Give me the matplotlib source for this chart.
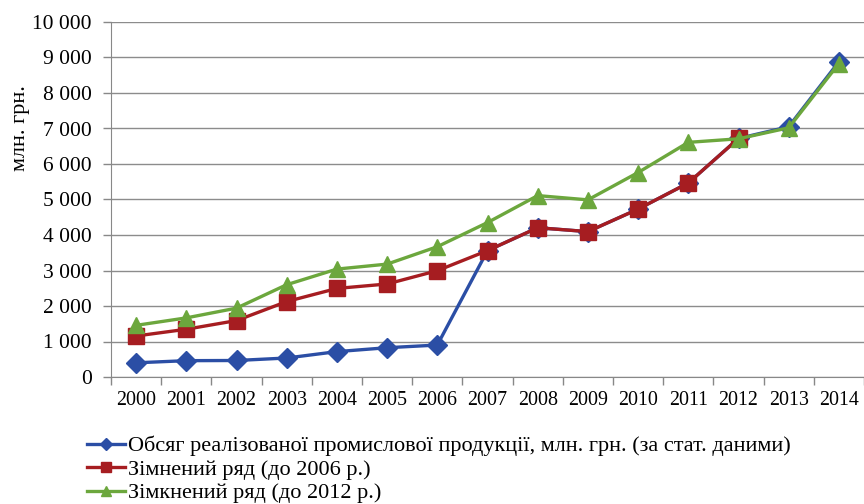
import matplotlib
matplotlib.use("Agg")
import matplotlib.pyplot as plt
from matplotlib.ticker import FuncFormatter, MultipleLocator

plt.rcParams['font.family'] = ['Liberation Serif', 'DejaVu Serif']

years = ['2000', '2001', '2002', '2003', '2004', '2005', '2006', '2007',
         '2008', '2009', '2010', '2011', '2012', '2013', '2014']

actual = [400, 460, 465, 535, 715, 825, 900, 3560, 4205, 4095, 4730,
          5465, 6720, 7050, 8880]
changed = [1155, 1345, 1590, 2125, 2495, 2620, 2995, 3560, 4205, 4095,
           4730, 5465, 6720]
closed = [1455, 1665, 1940, 2600, 3040, 3180, 3670, 4350, 5110, 4990,
          5760, 6610, 6710, 7020, 8830]

labels = ['Обсяг реалізованої промислової продукції, млн. грн. (за стат. даними)',
          'Зімнений ряд (до 2006 р.)',
          'Зімкнений ряд (до 2012 р.)']

fig = plt.figure(figsize=(8.64, 5.04), dpi=100)
ax = fig.add_axes([111/864, 1-377/504, 1-111/864, (377-22)/504])

x_all = list(range(len(years)))
l1, = ax.plot(x_all, actual, color='#2B4EA5', lw=2.4, marker='D', ms=10,
              clip_on=False, zorder=3)
l2, = ax.plot(x_all[:len(changed)], changed, color='#A61D21', lw=2.4,
              marker='s', ms=11, clip_on=False, zorder=4)
l3, = ax.plot(x_all, closed, color='#6CA73D', lw=2.4, marker='^', ms=12,
              clip_on=False, zorder=5)

ax.set_xlim(-0.5, 14.33)
ax.set_ylim(0, 10000)
ax.yaxis.set_major_locator(MultipleLocator(1000))
ax.yaxis.set_major_formatter(FuncFormatter(lambda v, p: f"{int(v):,}".replace(',', ' ')))
ax.set_xticks(x_all)
ax.set_xticklabels(years)
ax.set_xticks([i - 0.5 for i in range(len(years) + 1)], minor=True)
ax.tick_params(axis='x', which='major', length=0, pad=10, labelsize=14.4)
ax.tick_params(axis='x', which='minor', length=6, color='#888888', width=1)
ax.tick_params(axis='y', length=6, color='#888888', width=1, labelsize=15.5, pad=8)
ax.grid(axis='y', color='#8c8c8c', lw=1)
ax.set_axisbelow(True)
for s in ['top', 'right']:
    ax.spines[s].set_visible(False)
ax.spines['left'].set_color('#888888')
ax.spines['bottom'].set_color('#888888')

fig.text(21/864, 1-128/504, 'млн. грн.', rotation=90, ha='center', va='center',
         fontsize=16)

fig.legend([l1, l2, l3], labels, loc='upper left',
           bbox_to_anchor=(78/864, 1-427/504), frameon=False, fontsize=16,
           handlelength=1.72, handletextpad=0.15, labelspacing=0.13,
           markerscale=0.6, borderaxespad=0)

fig.savefig('out.png', dpi=100)
